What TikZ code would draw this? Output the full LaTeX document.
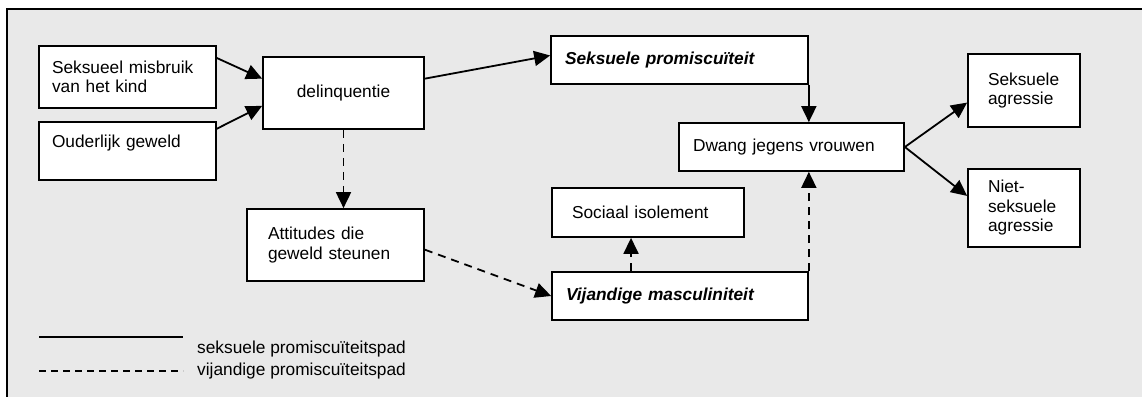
\documentclass[tikz,border=0pt]{standalone}
\usepackage{fontspec}
\setmainfont{Liberation Sans}
\usetikzlibrary{arrows.meta,calc}
\definecolor{bgc}{RGB}{233,233,233}
\begin{document}
\begin{tikzpicture}[x=1pt,y=-1pt,
  box/.style={draw, fill=white, line width=1.7pt, inner ysep=0pt, align=left,
    font=\fontsize{17.3}{19.5}\selectfont},
  conn/.style={line width=1.8pt, -{Triangle[length=16pt,width=15pt]}},
  dconn/.style={conn, dash pattern=on 8pt off 6pt},
  legtext/.style={anchor=base west, inner sep=0pt, font=\fontsize{17.3}{19.5}\selectfont}]
\useasboundingbox (0,0) rectangle (1142,396);
\clip (0,0) rectangle (1142,396);
\draw[fill=bgc, line width=1.8pt] (7,9) rectangle (1160,410);

\node[box, minimum width=177pt, minimum height=62pt, inner xsep=13pt, text width=151pt] (sek) at (127.5,77) {Seksueel misbruik\\van het kind};
\node[box, minimum width=177pt, minimum height=58pt, inner xsep=13pt, text width=151pt] (oud) at (127.5,151) {Ouderlijk geweld\\\mbox{}};
\node[box, align=center, minimum width=161pt, minimum height=72pt, inner xsep=13pt, text width=135pt] (del) at (343.5,93) {delinquentie};
\node[box, minimum width=257pt, minimum height=48pt, inner xsep=14pt, text width=229pt] (prom) at (679.5,60) {\bfseries\itshape Seksuele promiscuïteit};
\node[box, minimum width=225pt, minimum height=48pt, inner xsep=14pt, text width=197pt] (dwang) at (791.5,147) {Dwang jegens vrouwen};
\node[box, minimum width=112pt, minimum height=73pt, inner xsep=20pt, text width=72pt] (sagr) at (1024,90.5) {Seksuele\\agressie};
\node[box, minimum width=112pt, minimum height=78pt, inner xsep=20pt, text width=72pt] (nagr) at (1024,208) {Niet-\\seksuele\\agressie};
\node[box, minimum width=192pt, minimum height=49pt, inner xsep=20pt, text width=152pt] (soc) at (648,212.5) {Sociaal isolement};
\node[box, minimum width=256pt, minimum height=48pt, inner xsep=14pt, text width=228pt] (vij) at (680,296) {\bfseries\itshape Vijandige masculiniteit};
\node[box, minimum width=177pt, minimum height=72pt, inner xsep=21pt, text width=135pt] (att) at (335.5,245) {Attitudes die\\geweld steunen};

\draw[conn] (sek.12.7) -- (del.170.8);
\draw[conn] (oud.14) -- (del.189.9);
\draw[conn] (del.10.6) -- (prom.178.7);
\draw[conn] (prom.south east) -- (prom.south east |- dwang.north);
\draw[conn] (dwang.east) -- (sagr.192.6);
\draw[conn] (dwang.east) -- (nagr.168.9);

\draw[dconn] (del.south) -- (del.south |- att.north);
\draw[dconn] (att.-3.2) -- (vij.west);
\coordinate (vs) at ($(vij.north west)!0.31!(vij.north east)$);
\draw[dconn] (vs) -- (vs |- soc.south);
\draw[dconn] (vij.north east) -- (vij.north east |- dwang.south);

\coordinate (la) at (39,337); \coordinate (lb) at (183,337);
\coordinate (lc) at (39,371); \coordinate (ld) at (183,371);
\draw[line width=1.8pt] (la) -- (lb);
\draw[line width=1.8pt, dash pattern=on 7pt off 5pt] (lc) -- (ld);
\node[legtext] (t1) at (197,353) {seksuele promiscuïteitspad};
\node[legtext] (t2) at (197,375) {vijandige promiscuïteitspad};
\end{tikzpicture}
\end{document}
